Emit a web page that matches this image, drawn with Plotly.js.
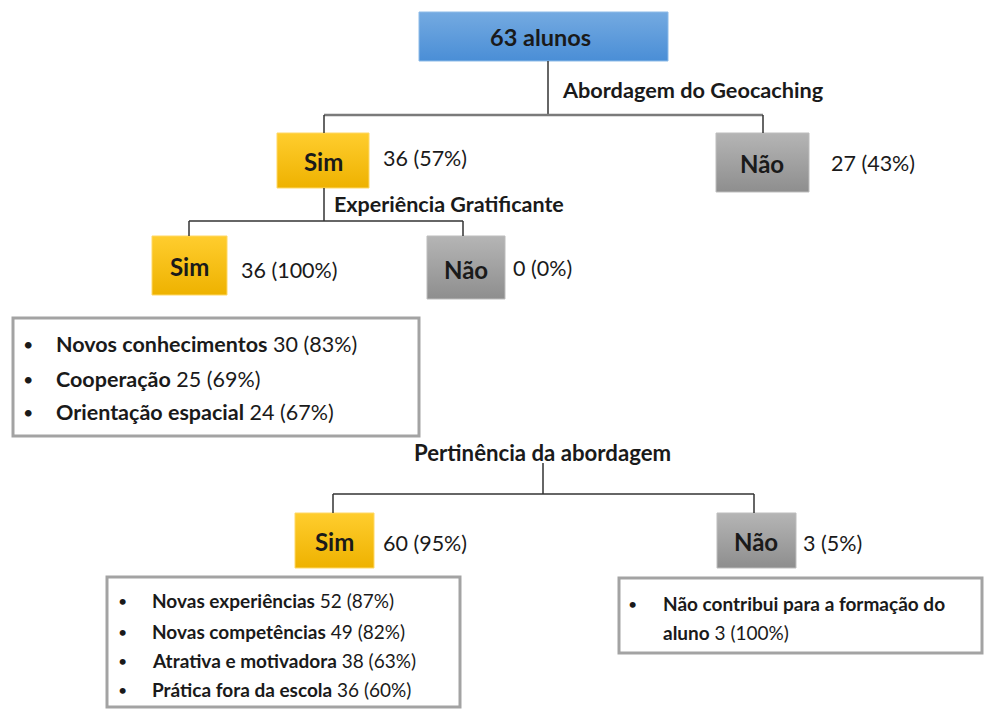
<!DOCTYPE html>
<html><head><meta charset="utf-8">
<script src="https://cdn.plot.ly/plotly-3.0.1.min.js"></script>
<style>html,body{margin:0;padding:0;background:#fff}#chart{width:992px;height:709px}</style>
</head><body><div id="chart"></div>
<script>
// ---- data ----
const totalLabel = '63 alunos';
const questions = ['Abordagem do Geocaching', 'Experiência Gratificante', 'Pertinência da abordagem'];
const answerLabels = ['Sim', 'Não'];
const q1Counts = [36, 27];
const q1Pct = [57, 43];
const q2Counts = [36, 0];
const q2Pct = [100, 0];
const q3Counts = [60, 3];
const q3Pct = [95, 5];
const list1Labels = ['Novos conhecimentos', 'Cooperação', 'Orientação espacial'];
const list1Counts = [30, 25, 24];
const list1Pct = [83, 69, 67];
const list2Labels = ['Novas experiências', 'Novas competências', 'Atrativa e motivadora', 'Prática fora da escola'];
const list2Counts = [52, 49, 38, 36];
const list2Pct = [87, 82, 63, 60];
const list3Labels = ['Não contribui para a formação do|aluno'];
const list3Counts = [3];
const list3Pct = [100];

// ---- styles ----
const FONT = 'Lato, "Noto Sans", sans-serif';
const TXT = '#1a1a1a';
const BLUE = ['#4a8ed6', '#74aae1'];
const GOLD = ['#eeb200', '#ffcd2e'];
const GRAY = ['#8e8e8e', '#b5b5b5'];

const traces = [];
const shapes = [];
const ann = [];

function box(x0, y0, x1, y1, cols, border) {
  traces.push({
    type: 'scatter', mode: 'lines', x: [x0, x1, x1, x0, x0], y: [y0, y0, y1, y1, y0],
    fill: 'toself', line: {color: border, width: 1},
    fillgradient: {type: 'vertical', colorscale: [[0, cols[0]], [1, cols[1]]]},
    hoverinfo: 'skip', showlegend: false
  });
}
function line(x0, y0, x1, y1, c, w) {
  shapes.push({type: 'line', xref: 'x', yref: 'y', x0, y0, x1, y1, line: {color: c, width: w}});
}
function frame(x0, y0, x1, y1) {
  shapes.push({type: 'rect', xref: 'x', yref: 'y', x0, y0, x1, y1, fillcolor: 'rgba(0,0,0,0)', line: {color: '#a3a3a3', width: 3}, layer: 'below'});
}
function text(x, y, t, size, anchor, bold) {
  ann.push({xref: 'x', yref: 'y', x, y, text: bold ? '<b>' + t + '</b>' : t, showarrow: false,
    xanchor: anchor || 'left', yanchor: 'middle', align: 'left',
    font: {family: FONT, size: size, color: TXT}});
}
const cp = (c, p) => c + ' (' + p + '%)';

// connectors
const HC = '#7a7a7a', VC = '#333333';
line(548, 61, 548, 115, VC, 1.5);
line(324, 115, 763, 115, HC, 2.5);
line(324, 115, 324, 133, VC, 1.5);
line(763, 115, 763, 133, VC, 1.5);
line(324, 188, 324, 221, VC, 1.5);
line(189, 221, 463, 221, VC, 1.5);
line(189, 221, 189, 236, VC, 1.5);
line(463, 221, 463, 236, VC, 1.5);
line(543, 463, 543, 494, VC, 1.5);
line(333, 494, 754, 494, VC, 1.5);
line(333, 494, 333, 513, VC, 1.5);
line(754, 494, 754, 513, VC, 1.5);

// boxes
box(419, 12, 668, 61, BLUE, '#8dbbe8');
box(277, 133, 369, 188, GOLD, '#ffd866');
box(716, 133, 809, 192, GRAY, '#bdbdbd');
box(152, 236, 227, 295, GOLD, '#ffd866');
box(427, 236, 505, 299, GRAY, '#bdbdbd');
box(295, 513, 374, 568, GOLD, '#ffd866');
box(717, 513, 796, 568, GRAY, '#bdbdbd');

frame(13, 318, 419, 436);
frame(107, 577, 460, 707);
frame(619, 578, 982, 653);

// texts
text(540, 37, totalLabel, 23.5, 'center', true);
text(560, 90, questions[0], 21.7, 'left', true);
text(323, 161, answerLabels[0], 24, 'center', true);
text(381, 158, cp(q1Counts[0], q1Pct[0]), 21.5);
text(762, 163, answerLabels[1], 24, 'center', true);
text(829, 163, cp(q1Counts[1], q1Pct[1]), 21.5);
text(332, 204, questions[1], 21.5, 'left', true);
text(189, 266, answerLabels[0], 24, 'center', true);
text(239, 270, cp(q2Counts[0], q2Pct[0]), 21.5);
text(466, 269, answerLabels[1], 24, 'center', true);
text(511, 268, cp(q2Counts[1], q2Pct[1]), 21.5);

const r1 = [344, 379, 412];
list1Labels.forEach((l, i) => {
  text(28, r1[i], '•', 18, 'center');
  text(54, r1[i], '<b>' + l + '</b> ' + cp(list1Counts[i], list1Pct[i]), 21.5);
});

text(412, 452, questions[2], 22.2, 'left', true);
text(334, 541, answerLabels[0], 24, 'center', true);
text(381, 543, cp(q3Counts[0], q3Pct[0]), 21.5);
text(756, 541, answerLabels[1], 24, 'center', true);
text(801, 543, cp(q3Counts[1], q3Pct[1]), 21.5);

const r2 = [600, 631, 660, 689];
list2Labels.forEach((l, i) => {
  text(122, r2[i], '•', 16, 'center');
  text(150, r2[i], '<b>' + l + '</b> ' + cp(list2Counts[i], list2Pct[i]), 19);
});

const r3 = [603, 632];
list3Labels.forEach((l, i) => {
  const parts = l.split('|');
  text(632, r3[0], '•', 16, 'center');
  parts.forEach((p, j) => {
    const last = j === parts.length - 1;
    text(661, r3[j], '<b>' + p + '</b>' + (last ? ' ' + cp(list3Counts[i], list3Pct[i]) : ''), 19);
  });
});

const layout = {
  width: 992, height: 709,
  margin: {l: 0, r: 0, t: 0, b: 0},
  paper_bgcolor: '#ffffff', plot_bgcolor: '#ffffff',
  xaxis: {range: [0, 992], visible: false, fixedrange: true},
  yaxis: {range: [709, 0], visible: false, fixedrange: true},
  shapes: shapes, annotations: ann, showlegend: false
};
Plotly.newPlot('chart', traces, layout, {displayModeBar: false, staticPlot: true});
</script>
</body></html>
